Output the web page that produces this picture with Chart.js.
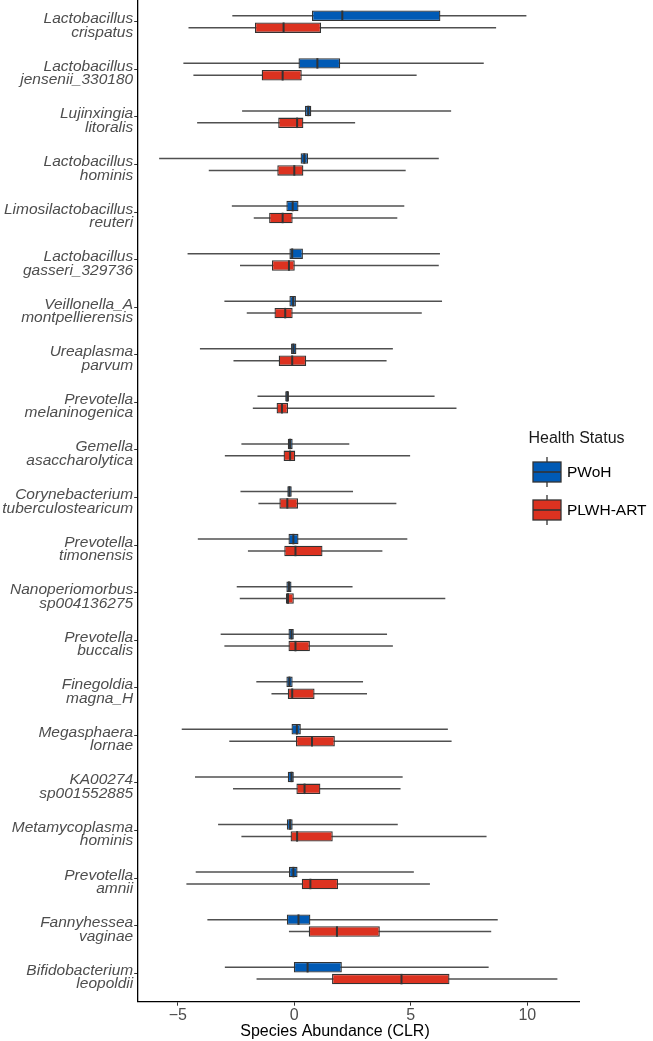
<!DOCTYPE html>
<html><head><meta charset="utf-8">
<script src="https://cdn.jsdelivr.net/npm/chart.js@4/dist/chart.umd.min.js"></script>
<style>
html,body{margin:0;padding:0;background:#fff;}
#wrap{position:relative;width:653px;height:1041px;}
</style></head><body>
<div id="wrap"><canvas id="c"></canvas></div>
<script>
const species = [
  "Lactobacillus crispatus","Lactobacillus jensenii_330180","Lujinxingia litoralis","Lactobacillus hominis",
  "Limosilactobacillus reuteri","Lactobacillus gasseri_329736","Veillonella_A montpellierensis","Ureaplasma parvum",
  "Prevotella melaninogenica","Gemella asaccharolytica","Corynebacterium tuberculostearicum","Prevotella timonensis",
  "Nanoperiomorbus sp004136275","Prevotella buccalis","Finegoldia magna_H","Megasphaera lornae",
  "KA00274 sp001552885","Metamycoplasma hominis","Prevotella amnii","Fannyhessea vaginae","Bifidobacterium leopoldii"
];
const groups = ["PWoH", "PLWH-ART"];
// PWoH (blue)
const pwohMin = [-2.66,-4.76,-2.24,-5.80,-2.68,-4.58,-3.00,-4.05,-1.58,-2.27,-2.31,-4.14,-2.47,-3.16,-1.63,-4.83,-4.26,-3.27,-4.23,-3.73,-2.98];
const pwohQ1  = [ 0.76, 0.18, 0.46, 0.27,-0.34,-0.21,-0.21,-0.14,-0.39,-0.28,-0.30,-0.25,-0.34,-0.25,-0.34,-0.12,-0.28,-0.32,-0.23,-0.32,-0.02];
const pwohMed = [ 2.06, 0.99, 0.60, 0.43,-0.07,-0.09,-0.05,-0.04,-0.30,-0.18,-0.21,-0.04,-0.23,-0.12,-0.21, 0.11,-0.12,-0.18,-0.04, 0.18, 0.57];
const pwohQ3  = [ 6.27, 1.97, 0.73, 0.59, 0.18, 0.37, 0.07, 0.09,-0.23,-0.07,-0.11, 0.18,-0.12, 0.00,-0.07, 0.28, 0.00,-0.07, 0.14, 0.69, 2.04];
const pwohMax = [ 9.96, 8.13, 6.73, 6.20, 4.72, 6.25, 6.34, 4.23, 6.02, 2.36, 2.52, 4.85, 2.50, 3.98, 2.95, 6.59, 4.65, 4.44, 5.13, 8.73, 8.34];
// PLWH-ART (red)
const plwhMin = [-4.54,-4.33,-4.17,-3.67,-1.74,-2.33,-2.04,-2.61,-1.78,-2.98,-1.54,-1.99,-2.34,-3.00,-0.98,-2.79,-2.63,-2.27,-4.63,-0.23,-1.62];
const plwhQ1  = [-1.69,-1.40,-0.69,-0.73,-1.08,-0.96,-0.85,-0.67,-0.76,-0.46,-0.64,-0.43,-0.36,-0.25,-0.28, 0.07, 0.09,-0.16, 0.32, 0.62, 1.62];
const plwhMed = [-0.46,-0.50, 0.12, 0.00,-0.50,-0.23,-0.39,-0.09,-0.53,-0.18,-0.30, 0.05,-0.27, 0.05,-0.09, 0.76, 0.44, 0.12, 0.69, 1.83, 4.60];
const plwhQ3  = [ 1.15, 0.32, 0.39, 0.39,-0.07, 0.02,-0.07, 0.51,-0.27, 0.04, 0.16, 1.21, 0.00, 0.67, 0.87, 1.74, 1.12, 1.65, 1.88, 3.67, 6.66];
const plwhMax = [ 8.66, 5.25, 2.61, 4.78, 4.42, 6.20, 5.47, 3.96, 6.96, 4.97, 4.38, 3.78, 6.48, 4.23, 3.12, 6.75, 4.56, 8.25, 5.82, 8.45,11.29];
const xTicks = [-5, 0, 5, 10];
const xTitle = "Species Abundance (CLR)";
const legendTitle = "Health Status";

const BLUE = '#005AB5', RED = '#DC3220';
const stats = [
  {min: pwohMin, med: pwohMed, max: pwohMax},
  {min: plwhMin, med: plwhMed, max: plwhMax}
];
const FONT = "'Liberation Sans', Arial, Helvetica, sans-serif";

const boxPlugin = {
  id: 'boxparts',
  beforeDatasetsDraw(chart) {
    const ctx = chart.ctx, xs = chart.scales.x;
    ctx.save();
    ctx.strokeStyle = '#505050';
    ctx.lineWidth = 1.5;
    chart.data.datasets.forEach((ds, d) => {
      chart.getDatasetMeta(d).data.forEach((el, i) => {
        const y = el.y;
        ctx.beginPath();
        ctx.moveTo(xs.getPixelForValue(stats[d].min[i]), y);
        ctx.lineTo(xs.getPixelForValue(stats[d].max[i]), y);
        ctx.stroke();
      });
    });
    ctx.restore();
  },
  afterDatasetsDraw(chart) {
    const ctx = chart.ctx, xs = chart.scales.x;
    ctx.save();
    ctx.strokeStyle = '#333333';
    ctx.lineWidth = 2;
    chart.data.datasets.forEach((ds, d) => {
      chart.getDatasetMeta(d).data.forEach((el, i) => {
        const x = xs.getPixelForValue(stats[d].med[i]);
        const h = el.height / 2;
        ctx.beginPath();
        ctx.moveTo(x, el.y - h);
        ctx.lineTo(x, el.y + h);
        ctx.stroke();
      });
    });
    ctx.restore();
  },
  afterDraw(chart) {
    const ctx = chart.ctx;
    ctx.save();
    ctx.fillStyle = '#000';
    ctx.font = '16px ' + FONT;
    ctx.textAlign = 'center';
    ctx.textBaseline = 'middle';
    ctx.fillText(xTitle, 335, 1032);
    ctx.textAlign = 'left';
    ctx.fillStyle = '#1a1a1a';
    ctx.font = '16px ' + FONT;
    ctx.fillText(legendTitle, 528.5, 439);
    const keys = [{c: BLUE, y: 472}, {c: RED, y: 510}];
    keys.forEach((k, j) => {
      const x0 = 533, x1 = 561, xc = 547;
      ctx.strokeStyle = '#333333';
      ctx.lineWidth = 1.3;
      ctx.beginPath();
      ctx.moveTo(xc, k.y - 15); ctx.lineTo(xc, k.y + 15); ctx.stroke();
      ctx.fillStyle = k.c;
      ctx.fillRect(x0, k.y - 10, x1 - x0, 20);
      ctx.strokeRect(x0, k.y - 10, x1 - x0, 20);
      ctx.lineWidth = 1.6;
      ctx.beginPath();
      ctx.moveTo(x0, k.y); ctx.lineTo(x1, k.y); ctx.stroke();
      ctx.fillStyle = '#000';
      ctx.font = '15.5px ' + FONT;
      ctx.fillText(groups[j], 567, k.y + 0.5);
    });
    ctx.restore();
  }
};

const mk = (q1, q3) => species.map((s, i) => ({y: i, x: [q1[i], q3[i]]}));

new Chart(document.getElementById('c'), {
  type: 'bar',
  data: {
    datasets: [
      {label: groups[0], data: mk(pwohQ1, pwohQ3), backgroundColor: BLUE, borderColor: '#333333',
       borderWidth: 1.3, borderSkipped: false, categoryPercentage: 0.5, barPercentage: 0.88},
      {label: groups[1], data: mk(plwhQ1, plwhQ3), backgroundColor: RED, borderColor: '#333333',
       borderWidth: 1.3, borderSkipped: false, categoryPercentage: 0.5, barPercentage: 0.88}
    ]
  },
  options: {
    indexAxis: 'y',
    responsive: true,
    maintainAspectRatio: false,
    animation: false,
    events: [],
    layout: {padding: {left: 0, right: 73.7, top: 0, bottom: 0}},
    plugins: {legend: {display: false}, tooltip: {enabled: false}},
    scales: {
      x: {
        type: 'linear', min: -6.72, max: 12.23, offset: false,
        afterBuildTicks: s => { s.ticks = xTicks.map(v => ({value: v})); },
        afterFit: s => { s.height = 39.3; s.paddingLeft = 0; s.paddingRight = 0; },
        ticks: {
          font: {size: 16, family: FONT}, color: '#4d4d4d', padding: 0,
          callback: v => (v < 0 ? '\u2212' + Math.abs(v) : String(v))
        },
        grid: {offset: false, drawOnChartArea: false, drawTicks: true, tickLength: 4, color: '#333333', lineWidth: 1},
        border: {display: true, color: '#000000', width: 1.3}
      },
      y: {
        type: 'linear', reverse: true, min: -0.457, max: 20.6, offset: false,
        afterBuildTicks: s => { s.ticks = species.map((_, i) => ({value: i})); },
        afterFit: s => { s.width = 137.7; s.paddingTop = 0; s.paddingBottom = 0; },
        ticks: {
          autoSkip: false, labelOffset: 4,
          font: {size: 15.5, family: FONT, style: 'italic', lineHeight: 0.87}, color: '#4d4d4d', padding: 1,
          callback: v => species[v].split(' ')
        },
        grid: {offset: false, drawOnChartArea: false, drawTicks: true, tickLength: 3.5, color: '#333333', lineWidth: 1},
        border: {display: true, color: '#000000', width: 1.3}
      }
    }
  },
  plugins: [boxPlugin]
});
</script>
</body></html>
